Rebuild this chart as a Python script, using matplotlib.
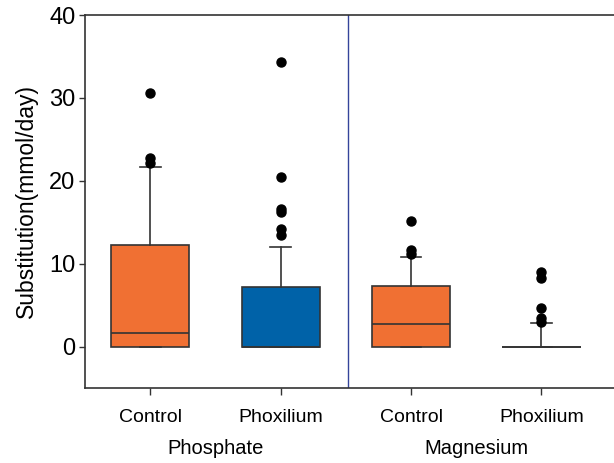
import matplotlib
matplotlib.use("Agg")
import matplotlib.pyplot as plt

plt.rcParams['font.family'] = ['Liberation Sans', 'DejaVu Sans']

categories = ["Control", "Phoxilium", "Control", "Phoxilium"]
groups = ["Phosphate", "Magnesium"]
colors = ["#F07033", "#0062A8", "#F07033", "#F07033"]

q1 = [0.0, 0.0, 0.0, 0.0]
med = [1.6, 0.0, 2.7, 0.0]
q3 = [12.2, 7.2, 7.35, 0.0]
whislo = [0.0, 0.0, 0.0, 0.0]
whishi = [21.7, 12.0, 10.8, 2.9]
fliers = [
    [22.1, 22.8, 30.6],
    [13.4, 14.2, 16.2, 16.6, 20.5, 34.3],
    [11.2, 11.6, 15.1],
    [3.0, 3.4, 4.7, 8.3, 9.0],
]

stats = []
for i in range(len(categories)):
    stats.append(dict(q1=q1[i], med=med[i], q3=q3[i], whislo=whislo[i],
                      whishi=whishi[i], fliers=fliers[i], label=categories[i]))

fig = plt.figure(figsize=(6.14, 4.63), dpi=100)
ax = fig.add_axes([85/614, 75/463, 529/614, 373/463])

positions = list(range(len(categories)))
bp = ax.bxp(stats, positions=positions, widths=0.6, patch_artist=True,
            capwidths=0.16,
            boxprops=dict(edgecolor="#333333", linewidth=1.2),
            medianprops=dict(color="#333333", linewidth=1.2),
            whiskerprops=dict(color="#333333", linewidth=1.2),
            capprops=dict(color="#333333", linewidth=1.2),
            flierprops=dict(marker='o', markerfacecolor='black',
                            markeredgecolor='black', markersize=6.5))
for patch, c in zip(bp['boxes'], colors):
    patch.set_facecolor(c)

ax.axvline(1.52, color="#34449a", linewidth=1.0)

ax.set_xlim(-0.5, 3.556)
ax.set_ylim(-5, 40)
ax.set_yticks([0, 10, 20, 30, 40])
ax.set_xticks(positions)
ax.set_xticklabels(categories, fontsize=14)
ax.tick_params(axis='y', labelsize=17, length=4, width=1, pad=3, color="#333333")
ax.tick_params(axis='x', length=5, width=1, pad=10, color="#333333")
ax.spines['right'].set_visible(False)
for s in ['left', 'top', 'bottom']:
    ax.spines[s].set_color("#333333")
    ax.spines[s].set_linewidth(1.2)

ax.set_ylabel("Substitution(mmol/day)", fontsize=16.5, labelpad=8)

for gi, g in enumerate(groups):
    ax.text(gi * 2 + 0.5, -12.3, g, ha='center', va='center', fontsize=14.5)

fig.savefig("out.png", dpi=100)
